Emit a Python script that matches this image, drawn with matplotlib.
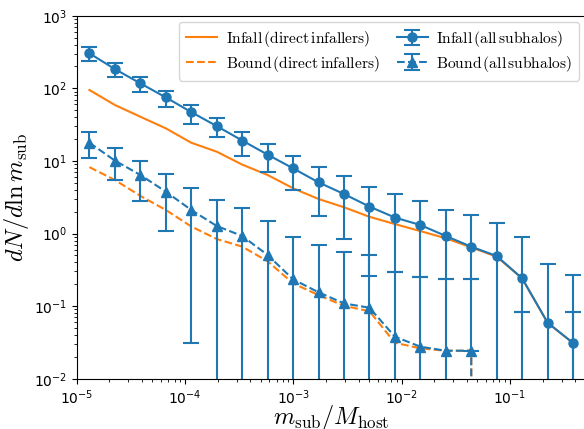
import matplotlib
matplotlib.use("Agg")
import matplotlib.pyplot as plt
import numpy as np

# bin centres in m_sub / M_host
mass_ratio = np.array([1.311e-5, 2.252e-5, 3.870e-5, 6.647e-5, 1.142e-4, 1.962e-4,
                       3.370e-4, 5.788e-4, 9.943e-4, 1.708e-3, 2.934e-3, 5.040e-3,
                       8.659e-3, 1.487e-2, 2.555e-2, 4.390e-2, 7.541e-2, 1.295e-1,
                       2.226e-1, 3.824e-1])

# direct infallers only
infall_direct = [94.8, 58.9, 40.6, 28.1, 17.8, 13.4, 8.9, 6.4, 4.2, 2.99,
                 2.30, 1.70, 1.35, 1.08, 0.86, 0.645, 0.479, 0.241, 0.059, 0.031]
bound_direct = [8.2, 5.46, 3.3, 2.11, 1.25, 0.84, 0.66, 0.415, 0.206, 0.142,
                0.101, 0.085, 0.0313, 0.0262, 0.0243, 0.0243, 0, 0, 0, 0]

# all subhalos, with lower / upper bounds of the error bars
infall_all = [303, 184, 117, 75, 47, 30.2, 19.1, 12.2, 7.9, 5.07,
              3.5, 2.35, 1.66, 1.31, 0.925, 0.658, 0.49, 0.241, 0.059, 0.031]
infall_all_lo = [240, 143, 90, 55.8, 32.5, 21.3, 11.8, 6.97, 3.97, 1.75,
                 0.84, 0.26, 0.298, 0.254, 0.236, 0.236, 0, 0.0837, 0, 0]
infall_all_hi = [374, 225, 145, 92.6, 58.9, 39, 25.2, 17.1, 11.8, 8.3,
                 6.1, 4.42, 3.47, 2.8, 2.11, 1.8, 1.41, 0.904, 0.38, 0.268]

bound_all = [17.8, 10.1, 6.4, 3.77, 2.11, 1.27, 0.925, 0.506, 0.234, 0.155,
             0.109, 0.095, 0.038, 0.0276, 0.0243, 0.0243, 0, 0, 0, 0]
bound_all_lo = [10.9, 5.46, 2.81, 1.07, 0.031, 0, 0, 0, 0, 0,
                0, 0, 0, 0, 0, 0.0243, 0, 0, 0, 0]
bound_all_hi = [24.8, 15.2, 9.98, 6.6, 4.24, 2.86, 2.22, 1.5, 0.895, 0.69,
                0.56, 0.506, 0.298, 0.254, 0.236, 0.236, 0, 0.0837, 0, 0.0837]


def yerr(val, lo, hi):
    val, lo, hi = np.asarray(val), np.asarray(lo), np.asarray(hi)
    return np.vstack([val - lo, hi - val])


fig = plt.figure(figsize=(5.84, 4.29), dpi=100)
ax = fig.add_axes([0.1313, 0.1172, 0.8716, 0.8462])

ax.plot(mass_ratio, infall_direct, color='C1', lw=1.5, label=r'$\mathrm{Infall\,(direct\,infallers)}$')
ax.plot(mass_ratio, bound_direct, color='C1', lw=1.5, ls='--', label=r'$\mathrm{Bound\,(direct\,infallers)}$')

ax.errorbar(mass_ratio, infall_all, yerr=yerr(infall_all, infall_all_lo, infall_all_hi),
            fmt='o-', color='C0', lw=1.5, ms=6.5, capsize=5.5, capthick=1.5,
            label=r'$\mathrm{Infall\,(all\,subhalos)}$')
ax.errorbar(mass_ratio, bound_all, yerr=yerr(bound_all, bound_all_lo, bound_all_hi),
            fmt='^--', color='C0', lw=1.5, ms=6.5, capsize=5.5, capthick=1.5,
            label=r'$\mathrm{Bound\,(all\,subhalos)}$')

ax.set_xscale('log')
ax.set_yscale('log')
ax.set_xlim(1e-5, 0.5)
ax.set_ylim(1e-2, 1e3)

ax.set_xlabel(r'$m_{\rm sub}/M_{\rm host}$', fontsize=17.5, math_fontfamily='cm', labelpad=-3)
ax.set_ylabel(r'$dN/d\ln m_{\rm sub}$', fontsize=17.5, math_fontfamily='cm', labelpad=2)

leg = ax.legend(ncol=2, loc='upper right', fontsize=11.2, columnspacing=1.1,
                handlelength=2.0, handletextpad=0.55, labelspacing=0.3,
                borderaxespad=0.4, borderpad=0.45)
for t in leg.get_texts():
    t.set_math_fontfamily('cm')

fig.savefig('out.png', dpi=100)
